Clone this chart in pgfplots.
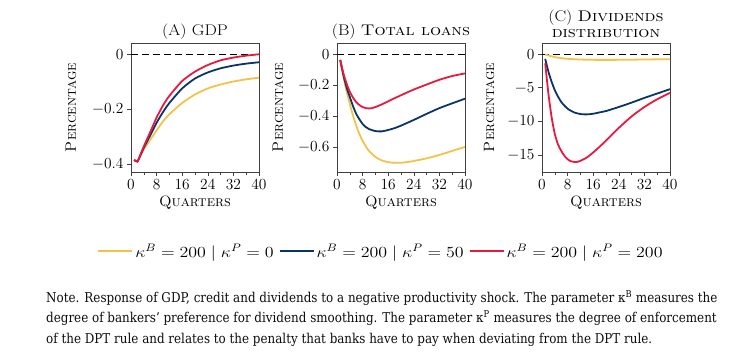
\RequirePackage{fix-cm}
\documentclass[border=0pt]{standalone}
\usepackage{pgfplots}
\pgfplotsset{compat=1.18}
\usepackage{fontspec}
\newfontfamily\notefont{DejaVu Serif}[FakeStretch=0.88]
\definecolor{cy}{HTML}{F4C24A}
\definecolor{cb}{HTML}{0B3466}
\definecolor{cr}{HTML}{E8193E}
\newcommand{\legsc}[1]{\scalebox{1.16}[1]{#1}}
\pgfplotsset{
  panel/.style={
    scale only axis, width=128bp, height=129bp,
    xmin=0, xmax=40, xtick={0,8,...,40}, minor x tick num=1,
    tick pos=left,
    tick align=outside, major tick length=4bp, minor tick length=2.5bp,
    axis line style={black!75, line width=0.7pt},
    every tick/.style={black!75, line width=0.6pt},
    font=\fontsize{15.5}{18.5}\selectfont,
    xlabel={\textsc{Quarters}}, ylabel={\textsc{Percentage}},
    every axis x label/.style={at={(axis description cs:0.5,-0.271)}, anchor=base,
      font=\fontsize{15}{18}\selectfont},
    every axis title shift=0pt,
    title style={at={(axis description cs:0.5,1)}, anchor=south, inner sep=0pt,
      align=center, xscale=1.13, font=\fontsize{15.5}{16.3}\selectfont},
    legend image code/.code={\draw[##1, line width=1.8pt] (0bp,0bp) -- (34bp,0bp);},
  },
  ylab/.style={every axis y label/.style={at={(axis description cs:#1,0.5)},
      rotate=90, anchor=center, font=\fontsize{15}{18}\selectfont}},
  ser/.style={line width=1.8pt, smooth, tension=0.4},
  zl/.style={black, line width=0.8pt, dash pattern=on 6.5bp off 4.5bp, forget plot},
}
\begin{document}
\begin{tikzpicture}
\path[use as bounding box] (0,0) rectangle (747bp,-355bp);
% ---------- Panel A
\begin{axis}[panel, ylab=-0.469, at={(131bp,-172bp)}, anchor=south west,
  ymin=-0.428, ymax=0.041, ytick={-0.4,-0.2,0}, title={(A) GDP},
  title style={yshift=3.4bp}]
\addplot[zl] coordinates {(0,0) (40,0)};
\addplot[ser, cy] coordinates {(1,-0.384) (2,-0.39) (3,-0.368) (4,-0.346) (6,-0.311) (8,-0.277) (10,-0.244) (12,-0.218) (16,-0.177) (20,-0.146) (24,-0.124) (28,-0.110) (32,-0.099) (36,-0.091) (40,-0.085)};
\addplot[ser, cb] coordinates {(1,-0.384) (2,-0.39) (3,-0.366) (4,-0.340) (6,-0.295) (8,-0.249) (10,-0.210) (12,-0.177) (16,-0.124) (20,-0.088) (24,-0.066) (28,-0.051) (32,-0.041) (36,-0.034) (40,-0.029)};
\addplot[ser, cr] coordinates {(1,-0.384) (2,-0.39) (3,-0.363) (4,-0.335) (6,-0.283) (8,-0.230) (10,-0.186) (12,-0.151) (16,-0.097) (20,-0.063) (24,-0.039) (28,-0.022) (32,-0.012) (36,-0.005) (40,0.0)};
\end{axis}
% ---------- Panel B
\begin{axis}[panel, ylab=-0.461, at={(337bp,-172bp)}, anchor=south west,
  ymin=-0.76, ymax=0.072, ytick={-0.6,-0.4,-0.2,0}, title={(B) \textsc{Total loans}},
  title style={yshift=3.4bp},
  legend columns=3, legend cell align=left,
  legend style={at={(axis description cs:0.344,-0.615)}, anchor=center, draw=none, fill=none,
    font=\fontsize{15.5}{18.5}\selectfont,
    /tikz/every even column/.append style={column sep=3bp}}]
\addplot[zl] coordinates {(0,0) (40,0)};
\addplot[ser, cy] coordinates {(1,-0.037) (2,-0.146) (3,-0.24) (4,-0.32) (5,-0.395) (6,-0.461) (7,-0.515) (8,-0.559) (9,-0.595) (10,-0.624) (12,-0.663) (14,-0.685) (16,-0.696) (18,-0.701) (20,-0.70) (22,-0.696) (24,-0.689) (28,-0.672) (32,-0.65) (36,-0.624) (40,-0.598)};
\addlegendentry{\legsc{$\kappa^B = 200 \mid \kappa^P = 0$}}
\addplot[ser, cb] coordinates {(1,-0.037) (2,-0.135) (3,-0.215) (4,-0.276) (5,-0.335) (6,-0.385) (7,-0.42) (8,-0.45) (9,-0.47) (10,-0.483) (12,-0.496) (14,-0.498) (16,-0.489) (18,-0.477) (20,-0.461) (24,-0.424) (28,-0.385) (32,-0.348) (36,-0.317) (40,-0.287)};
\addlegendentry{\legsc{$\kappa^B = 200 \mid \kappa^P = 50$}}
\addplot[ser, cr] coordinates {(1,-0.037) (2,-0.124) (3,-0.19) (4,-0.243) (5,-0.28) (6,-0.309) (7,-0.328) (8,-0.341) (9,-0.348) (10,-0.35) (11,-0.348) (12,-0.341) (14,-0.324) (16,-0.304) (18,-0.284) (20,-0.265) (24,-0.228) (28,-0.196) (32,-0.165) (36,-0.141) (40,-0.124)};
\addlegendentry{\legsc{$\kappa^B = 200 \mid \kappa^P = 200$}}
\end{axis}
% ---------- Panel C
\begin{axis}[panel, ylab=-0.414, at={(542bp,-172bp)}, anchor=south west,
  ymin=-17.5, ymax=1.65, ytick={-15,-10,-5,0},
  title={(C) \textsc{Dividends}\\\textsc{distribution}},
  title style={yshift=4.7bp}]
\addplot[zl] coordinates {(0,0) (40,0)};
\addplot[ser, cy] coordinates {(1,-0.05) (2,-0.2) (4,-0.45) (6,-0.6) (8,-0.7) (12,-0.8) (16,-0.85) (24,-0.85) (32,-0.8) (40,-0.75)};
\addplot[ser, cb] coordinates {(1,-0.7) (2,-2.6) (3,-4.1) (4,-5.35) (5,-6.3) (6,-7.1) (7,-7.65) (8,-8.1) (9,-8.4) (10,-8.65) (12,-8.9) (14,-8.95) (16,-8.85) (18,-8.65) (20,-8.45) (24,-7.85) (28,-7.2) (32,-6.5) (36,-5.85) (40,-5.2)};
\addplot[ser, cr] coordinates {(1,-1.35) (2,-5.85) (3,-9.35) (4,-11.85) (5,-13.4) (6,-14.35) (7,-15.1) (8,-15.6) (9,-15.9) (10,-16.0) (11,-16.0) (12,-15.85) (14,-15.35) (16,-14.6) (18,-13.75) (20,-12.85) (22,-11.9) (24,-10.95) (28,-9.25) (32,-7.85) (36,-6.7) (40,-5.75)};
\end{axis}
% ---------- Note
\begin{scope}[every node/.style={anchor=base west, inner sep=0pt, font=\notefont\fontsize{13.6}{20.5}\selectfont, text=black!95}]
\node at (46bp,-302bp) {Note. Response of GDP, credit and dividends to a negative productivity shock. The parameter κ\textsuperscript{B} measures the};
\node at (46bp,-322.5bp) {degree of bankers’ preference for dividend smoothing. The parameter κ\textsuperscript{P} measures the degree of enforcement};
\node at (46bp,-343bp) {of the DPT rule and relates to the penalty that banks have to pay when deviating from the DPT rule.};
\end{scope}
\end{tikzpicture}
\end{document}
